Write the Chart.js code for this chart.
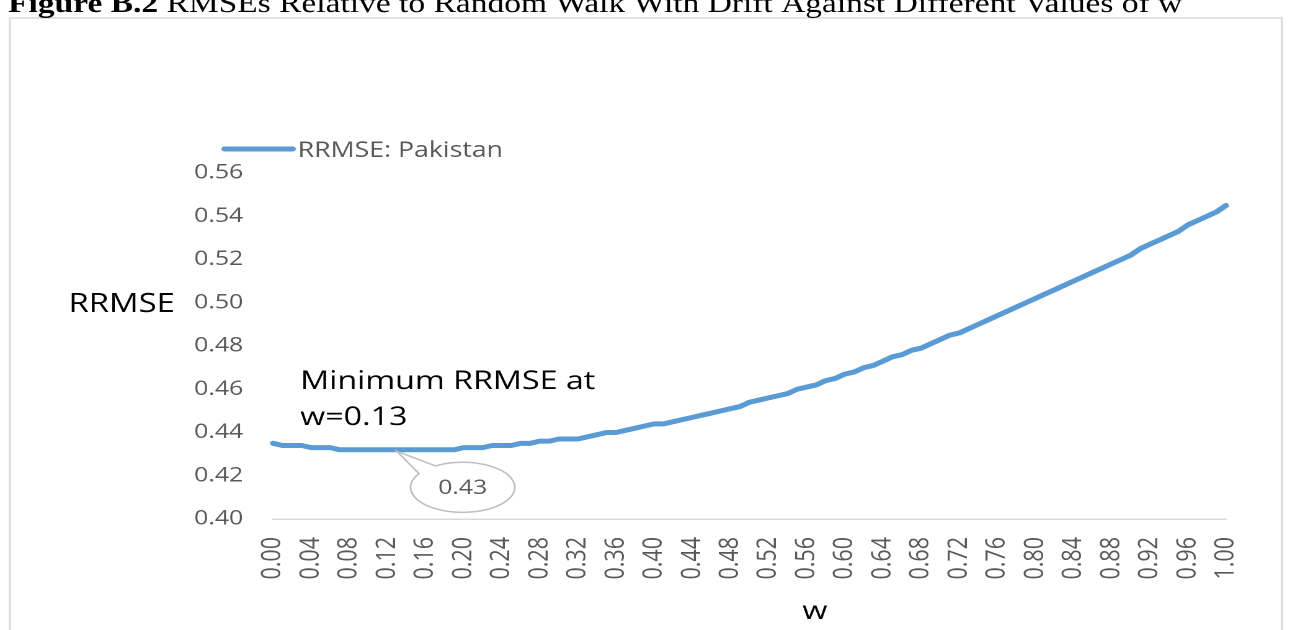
<!DOCTYPE html>
<html>
<head>
<meta charset="utf-8">
<script src="https://cdn.jsdelivr.net/npm/chart.js@4.4.1/dist/chart.umd.min.js"></script>
<style>
  html, body { margin: 0; padding: 0; background: #fff; overflow: hidden; }
  /* the original picture is stretched sideways, so the chart is drawn narrow and widened */
  #wrap { position: absolute; left: 0; top: 0; width: 1040px; height: 630px;
          transform: scaleX(1.2404); transform-origin: 0 0; }
</style>
</head>
<body>
<div id="wrap"><canvas id="myChart"></canvas></div>
<script>
//=======================================================//
// RRMSE against w (Pakistan)

const figNo = 'Figure B.2';
const figTitle = 'RMSEs Relative to Random Walk With Drift Against Different Values of w';
const seriesName = 'RRMSE: Pakistan';
const yTitle = 'RRMSE';
const xTitle = 'w';
const minW = '0.13';

const wValues = [
  '0.00','0.01','0.02','0.03','0.04','0.05','0.06','0.07','0.08','0.09',
  '0.10','0.11','0.12','0.13','0.14','0.15','0.16','0.17','0.18','0.19',
  '0.20','0.21','0.22','0.23','0.24','0.25','0.26','0.27','0.28','0.29',
  '0.30','0.31','0.32','0.33','0.34','0.35','0.36','0.37','0.38','0.39',
  '0.40','0.41','0.42','0.43','0.44','0.45','0.46','0.47','0.48','0.49',
  '0.50','0.51','0.52','0.53','0.54','0.55','0.56','0.57','0.58','0.59',
  '0.60','0.61','0.62','0.63','0.64','0.65','0.66','0.67','0.68','0.69',
  '0.70','0.71','0.72','0.73','0.74','0.75','0.76','0.77','0.78','0.79',
  '0.80','0.81','0.82','0.83','0.84','0.85','0.86','0.87','0.88','0.89',
  '0.90','0.91','0.92','0.93','0.94','0.95','0.96','0.97','0.98','0.99',
  '1.00'
];

const rrmsePakistan = [
  0.435, 0.434, 0.434, 0.434, 0.433, 0.433, 0.433, 0.432, 0.432, 0.432,
  0.432, 0.432, 0.432, 0.432, 0.432, 0.432, 0.432, 0.432, 0.432, 0.432,
  0.433, 0.433, 0.433, 0.434, 0.434, 0.434, 0.435, 0.435, 0.436, 0.436,
  0.437, 0.437, 0.437, 0.438, 0.439, 0.440, 0.440, 0.441, 0.442, 0.443,
  0.444, 0.444, 0.445, 0.446, 0.447, 0.448, 0.449, 0.450, 0.451, 0.452,
  0.454, 0.455, 0.456, 0.457, 0.458, 0.460, 0.461, 0.462, 0.464, 0.465,
  0.467, 0.468, 0.470, 0.471, 0.473, 0.475, 0.476, 0.478, 0.479, 0.481,
  0.483, 0.485, 0.486, 0.488, 0.490, 0.492, 0.494, 0.496, 0.498, 0.500,
  0.502, 0.504, 0.506, 0.508, 0.510, 0.512, 0.514, 0.516, 0.518, 0.520,
  0.522, 0.525, 0.527, 0.529, 0.531, 0.533, 0.536, 0.538, 0.540, 0.542,
  0.545
];

const yMin = 0.40;
const yMax = 0.56;
const yStep = 0.02;
const xLabelEvery = 4; // 0.00, 0.04, 0.08 ...

const lineColor = '#5b9bd5';
const fontFam = "'Open Sans', sans-serif";

// extra drawing: frame, title, legend, axis titles, note and callout
const decor = {
  id: 'decor',
  beforeDraw(chart) {
    const c = chart.ctx;
    c.save();
    c.fillStyle = '#fff';
    c.fillRect(0, 0, chart.width, chart.height);
    c.strokeStyle = '#d9d9d9';
    c.lineWidth = 1.5;
    c.strokeRect(8, 18, 1025.5, 640);
    c.fillStyle = '#000';
    c.textAlign = 'left';
    c.textBaseline = 'alphabetic';
    c.font = "bold 27px 'Liberation Serif'";
    c.fillText(figNo, 6.5, 12);
    const w0 = c.measureText(figNo + ' ').width;
    c.font = "27px 'Liberation Serif'";
    c.fillText(figTitle, 6.5 + w0, 12);
    c.restore();
  },
  afterDatasetsDraw(chart) {
    const c = chart.ctx;
    const yScale = chart.scales.y;
    c.save();

    // legend
    c.strokeStyle = lineColor;
    c.lineWidth = 5;
    c.lineCap = 'round';
    c.beginPath();
    c.moveTo(181, 149);
    c.lineTo(236, 149);
    c.stroke();
    c.fillStyle = '#595959';
    c.font = '21.5px ' + fontFam;
    c.textAlign = 'left';
    c.textBaseline = 'alphabetic';
    c.fillText(seriesName, 240, 157);

    // axis titles
    c.fillStyle = '#000';
    c.font = '26.5px ' + fontFam;
    c.textAlign = 'right';
    c.fillText(yTitle, 141, yScale.getPixelForValue(0.50) + 9);
    c.textAlign = 'center';
    c.font = '26px ' + fontFam;
    c.fillText(xTitle, 657, 619);

    // note
    c.textAlign = 'left';
    c.font = '26px ' + fontFam;
    c.fillText('Minimum ' + yTitle + ' at', 242, 389);
    c.fillText(xTitle + '=' + minW, 242, 425);

    // callout on the minimum
    const idx = wValues.indexOf(minW);
    const pt = chart.getDatasetMeta(0).data[idx];
    const tx = pt.x, ty = pt.y + 1.5;
    const cx = tx + 53, cy = ty + 36, rx = 42, ry = 25;
    const t1 = Math.atan2(-14 / ry, -36.3 / rx);
    const t2 = Math.atan2(-22 / ry, -22.6 / rx);
    c.beginPath();
    c.moveTo(tx, ty);
    c.lineTo(cx + rx * Math.cos(t1), cy + ry * Math.sin(t1));
    c.ellipse(cx, cy, rx, ry, 0, t1, t2, true);
    c.closePath();
    c.fillStyle = '#fff';
    c.fill();
    c.strokeStyle = '#bfbfbf';
    c.lineWidth = 1.5;
    c.lineCap = 'butt';
    c.stroke();
    c.fillStyle = '#595959';
    c.font = '20px ' + fontFam;
    c.textAlign = 'center';
    c.textBaseline = 'middle';
    c.fillText(rrmsePakistan[idx].toFixed(2), cx, cy + 1);

    c.restore();
  }
};

const ctx = document.getElementById('myChart');
new Chart(ctx, {
  type: 'line',
  data: {
    labels: wValues,
    datasets: [{
      label: seriesName,
      data: rrmsePakistan,
      borderColor: lineColor,
      backgroundColor: lineColor,
      borderWidth: 5,
      borderCapStyle: 'round',
      borderJoinStyle: 'round',
      pointRadius: 0,
      tension: 0,
      fill: false
    }]
  },
  options: {
    responsive: true,
    maintainAspectRatio: false,
    animation: false,
    devicePixelRatio: 2,
    layout: {
      padding: { top: 173, right: 51.6, bottom: 0, left: 0 }
    },
    scales: {
      x: {
        offset: false,
        grid: { display: false, drawTicks: false },
        border: { display: true, color: '#d9d9d9', width: 1.5 },
        afterFit: (s) => { s.height = 111; },
        ticks: {
          autoSkip: false,
          minRotation: 90,
          maxRotation: 90,
          padding: 18,
          color: '#595959',
          font: { family: fontFam, size: 21.5 },
          callback: function(val, i) {
            return i % xLabelEvery === 0 ? wValues[i] : '';
          }
        }
      },
      y: {
        min: yMin,
        max: yMax,
        grid: { display: false, drawTicks: false },
        border: { display: false },
        afterFit: (s) => { s.width = 220.1; },
        ticks: {
          stepSize: yStep,
          padding: 24,
          color: '#595959',
          font: { family: fontFam, size: 20 },
          callback: (v) => v.toFixed(2)
        }
      }
    },
    plugins: {
      legend: { display: false },
      tooltip: { enabled: false }
    }
  },
  plugins: [decor]
});
</script>
</body>
</html>
